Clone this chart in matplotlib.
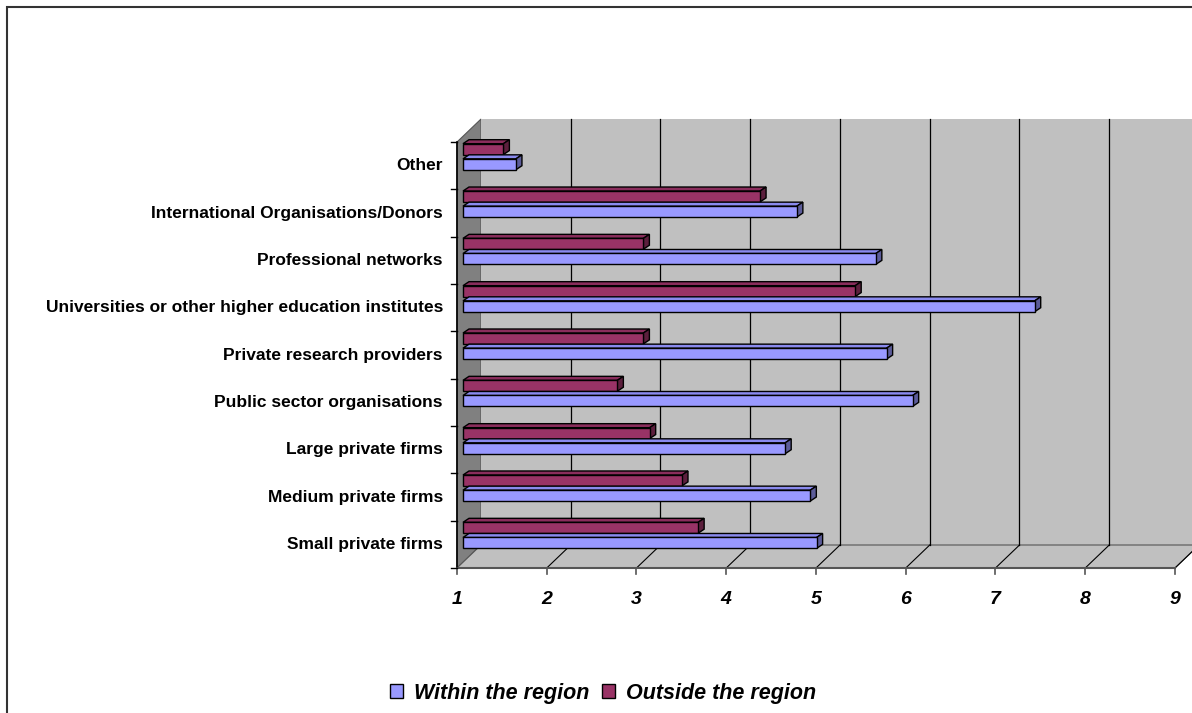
import matplotlib
matplotlib.use("Agg")
import matplotlib.pyplot as plt
from matplotlib.patches import Polygon, Rectangle, Patch

categories = ["Small private firms", "Medium private firms", "Large private firms",
              "Public sector organisations", "Private research providers",
              "Universities or other higher education institutes",
              "Professional networks", "International Organisations/Donors", "Other"]
within = [4.94, 4.87, 4.59, 6.01, 5.72, 7.37, 5.60, 4.72, 1.59]
outside = [3.62, 3.44, 3.08, 2.72, 3.01, 5.37, 3.01, 4.31, 1.45]
xticks = [1, 2, 3, 4, 5, 6, 7, 8, 9]
series_names = ["Within the region", "Outside the region"]

col_in, col_in_top, col_in_side = "#9999ff", "#8a8aee", "#5c5c99"
col_out, col_out_top, col_out_side = "#993366", "#8a2d5c", "#5c1f3d"

# px scale: 89.75 px per value unit, 47.33 px per category
fig = plt.figure(figsize=(11.92, 7.13), dpi=100)
ax = fig.add_axes([0, 0, 1, 1])
ax.set_xlim(1 - 457 / 89.75, 1 + (1192 - 457) / 89.75)
ax.set_ylim(-145 / 47.33, 568 / 47.33)
ax.axis("off")

dx = 24 / 89.75   # depth offset of the back wall
dy = 23 / 47.33
n = len(categories)
x0, x1 = xticks[0], xticks[-1]

# outer border
fig.patches.append(Rectangle((7 / 1192, -0.01), 1.2, 1 - 7 / 713 + 0.01, transform=fig.transFigure,
                             fill=False, edgecolor="#333333", lw=1.5))

# walls and floor
ax.add_patch(Polygon([(x0, 0), (x0, n), (x0 + dx, n + dy), (x0 + dx, dy)],
                     facecolor="#808080", edgecolor="#555555", lw=0.8, zorder=1))
ax.add_patch(Polygon([(x0 + dx, dy), (x0 + dx, n + dy), (x1 + dx, n + dy), (x1 + dx, dy)],
                     facecolor="#c0c0c0", edgecolor="none", zorder=1))
ax.add_patch(Polygon([(x0, 0), (x1, 0), (x1 + dx, dy), (x0 + dx, dy)],
                     facecolor="#c0c0c0", edgecolor="#555555", lw=0.8, zorder=1))
for v in xticks[1:]:
    ax.plot([v + dx, v + dx], [dy, n + dy], color="black", lw=0.9, zorder=2)
    ax.plot([v, v + dx], [0, dy], color="black", lw=0.8, zorder=2)

# axis lines and ticks
ax.plot([x0, x1], [0, 0], color="#555555", lw=1.5, zorder=3)
ax.plot([x0, x0], [0, n], color="black", lw=1.2, zorder=3)
for v in xticks:
    ax.plot([v, v], [0, -6 / 47.33], color="#555555", lw=1.2, zorder=3)
    ax.text(v, -31 / 47.33, str(v), ha="center", va="center", fontsize=14,
            fontweight="bold", fontstyle="italic", family="Liberation Sans")
for i in range(n + 1):
    ax.plot([x0 - 6 / 89.75, x0], [i, i], color="black", lw=1, zorder=3)
for i, name in enumerate(categories):
    ax.text(x0 - 14 / 89.75, i + 0.5, name, ha="right", va="center", fontsize=12.5,
            fontweight="bold", family="Liberation Sans")

# 3D bars
ox = 6 / 89.75
tdx, tdy = 6 / 89.75, 4 / 47.33


def bar3d(val, yb, yt, front, top, side):
    xs, xe = x0 + ox, val + ox
    ax.add_patch(Polygon([(xs, yt), (xe, yt), (xe + tdx, yt + tdy), (xs + tdx, yt + tdy)],
                         facecolor=top, edgecolor="black", lw=1, zorder=4))
    ax.add_patch(Polygon([(xe, yb), (xe, yt), (xe + tdx, yt + tdy), (xe + tdx, yb + tdy)],
                         facecolor=side, edgecolor="black", lw=1, zorder=4))
    ax.add_patch(Rectangle((xs, yb), xe - xs, yt - yb, facecolor=front,
                           edgecolor="black", lw=1, zorder=4))


for i in range(n - 1, -1, -1):
    bar3d(outside[i], i + 0.735, i + 0.965, col_out, col_out_top, col_out_side)
    bar3d(within[i], i + 0.415, i + 0.645, col_in, col_in_top, col_in_side)

handles = [Patch(facecolor=col_in, edgecolor="black", lw=1),
           Patch(facecolor=col_out, edgecolor="black", lw=1)]
fig.legend(handles, series_names, loc="center", bbox_to_anchor=(0.506, 0.028), ncol=2,
           frameon=False, handlelength=0.6, handleheight=0.6, handletextpad=0.5,
           columnspacing=0.6, prop={"family": "Liberation Sans", "weight": "bold",
                                    "style": "italic", "size": 15.5})

fig.savefig("out.png", dpi=100)
